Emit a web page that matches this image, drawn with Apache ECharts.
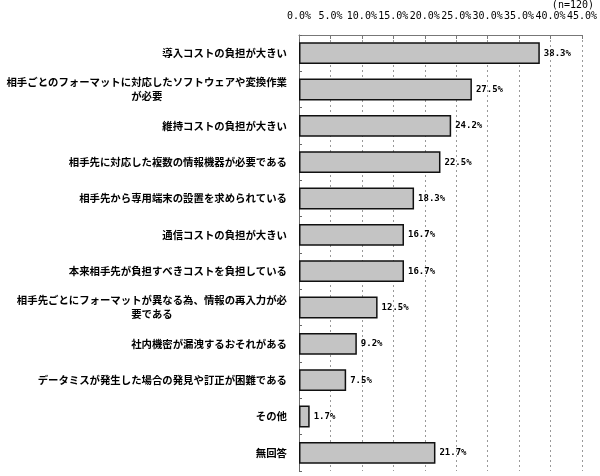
<!DOCTYPE html>
<html><head><meta charset="utf-8">
<script src="https://cdn.jsdelivr.net/npm/echarts@6/dist/echarts.min.js"></script>
<style>html,body{margin:0;padding:0;background:#fff}#c{width:600px;height:476px}</style>
</head><body><div id="c"></div>
<script>
const categories = [
  '導入コストの負担が大きい',
  '相手ごとのフォーマットに対応したソフトウェアや変換作業\nが必要',
  '維持コストの負担が大きい',
  '相手先に対応した複数の情報機器が必要である',
  '相手先から専用端末の設置を求められている',
  '通信コストの負担が大きい',
  '本来相手先が負担すべきコストを負担している',
  '相手先ごとにフォーマットが異なる為、情報の再入力が必\n要である',
  '社内機密が漏洩するおそれがある',
  'データミスが発生した場合の発見や訂正が困難である',
  'その他',
  '無回答'
];
const values = [38.3, 27.5, 24.2, 22.5, 18.3, 16.7, 16.7, 12.5, 9.2, 7.5, 1.7, 21.7];
const sampleNote = '(n=120)';

const chart = echarts.init(document.getElementById('c'), null, {renderer: 'canvas'});
chart.setOption({
  animation: false,
  backgroundColor: '#fff',
  grid: {left: 299, right: 18, top: 35, bottom: 5, containLabel: false},
  graphic: [{
    type: 'text', right: 6, top: 0,
    style: {text: sampleNote, font: '10px "DejaVu Sans Mono"', fill: '#000'}
  }],
  xAxis: {
    type: 'value', position: 'top', min: 0, max: 45, interval: 5,
    axisLine: {show: true, lineStyle: {color: '#777', width: 1}},
    axisTick: {show: true, inside: true, length: 4, lineStyle: {color: '#777'}},
    axisLabel: {
      margin: 14, color: '#000', fontFamily: 'DejaVu Sans Mono', fontSize: 10,
      formatter: v => v.toFixed(1) + '%'
    },
    splitLine: {show: true, lineStyle: {color: '#999', type: [2, 3], width: 1}}
  },
  yAxis: {
    type: 'category', inverse: true, data: categories,
    axisLine: {show: true, lineStyle: {color: '#666', width: 1}},
    axisTick: {show: true, inside: true, length: 3, lineStyle: {color: '#666'}},
    axisLabel: {
      margin: 12, color: '#000', fontFamily: '"Noto Sans CJK JP"', fontSize: 10.4, fontWeight: 'bold',
      lineHeight: 14,
      formatter: function (v) {
        const parts = v.split('\n');
        if (parts.length === 1) return v;
        return parts[0] + '\n{c|' + parts[1] + '}';
      },
      rich: {c: {align: 'center', fontFamily: '"Noto Sans CJK JP"', fontSize: 10.4, fontWeight: 'bold', color: '#000', lineHeight: 14}}
    }
  },
  series: [{
    type: 'bar', data: values, barCategoryGap: '40%',
    itemStyle: {color: '#c4c4c4', borderColor: '#111', borderWidth: 1.5},
    label: {
      show: true, position: 'right', distance: 4, color: '#000',
      fontFamily: 'DejaVu Sans Mono', fontSize: 9, fontWeight: 'bold',
      formatter: p => p.value.toFixed(1) + '%'
    }
  }]
});
</script></body></html>
